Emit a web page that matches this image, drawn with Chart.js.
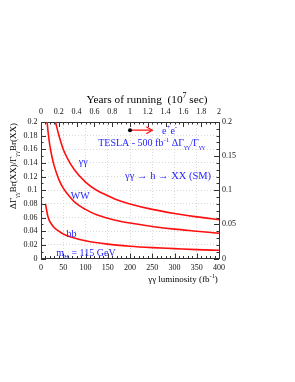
<!DOCTYPE html>
<html>
<head>
<meta charset="utf-8">
<script src="https://cdn.jsdelivr.net/npm/chart.js@4/dist/chart.umd.min.js"></script>
<style>
  html, body { margin: 0; padding: 0; background: #fff; }
  canvas { display: block; }
</style>
</head>
<body>
<canvas id="chart" width="295" height="382"></canvas>
<script>
// gamma-gamma luminosity (fb^-1) vs relative error on Gamma_gg * Br(XX)
const lumiGG = [32.5, 40, 50, 60, 75, 100, 125, 150, 175, 200, 250, 300, 350, 400];
const errGG  = [0.200, 0.181, 0.160, 0.146, 0.130, 0.112, 0.100, 0.092, 0.085, 0.080, 0.072, 0.066, 0.061, 0.057];

const lumiWW = [13.7, 16, 20, 25, 30, 40, 50, 60, 75, 100, 125, 150, 175, 200, 250, 300, 350, 400];
const errWW  = [0.200, 0.185, 0.165, 0.148, 0.135, 0.116, 0.103, 0.094, 0.083, 0.072, 0.064, 0.059, 0.055, 0.052, 0.047, 0.043, 0.040, 0.037];

const lumiBB = [10, 12, 15, 18, 20, 25, 30, 40, 50, 75, 100, 150, 200, 250, 300, 350, 400];
const errBB  = [0.080, 0.073, 0.063, 0.057, 0.054, 0.049, 0.045, 0.040, 0.036, 0.030, 0.026, 0.021, 0.018, 0.016, 0.0145, 0.013, 0.012];

// e+e- arrow (years of running)
const arrowYears = [1, 1.25];
const arrowLevel = [0.188, 0.188];

// tick labels
const lumiTicks  = [0, 50, 100, 150, 200, 250, 300, 350, 400];
const yearTicks  = [0, 0.2, 0.4, 0.6, 0.8, 1, 1.2, 1.4, 1.6, 1.8, 2];
const leftTicks  = [0, 0.02, 0.04, 0.06, 0.08, 0.1, 0.12, 0.14, 0.16, 0.18, 0.2];
const rightTicks = [0, 0.05, 0.1, 0.15, 0.2];

const SERIF = '"Liberation Serif", "Times New Roman", serif';
const BLUE  = '#2424ff';
const RED   = '#ff1010';
const AXIS  = '#333';

// annotations: [lumi, value, align, size, parts]  parts: [text, 0 normal | 1 sup | -1 sub]
const notes = [
  [128.5, 0.170, 'left', 10, [['TESLA - 500 fb', 0], ['-1', 1], [' \u0394\u0393', 0], ['\u03b3\u03b3', -1], ['/\u0393', 0], ['\u03b3\u03b3', -1]]],
  [189, 0.122, 'left', 10.5, [['\u03b3\u03b3 \u2192 h \u2192 XX (SM)', 0]]],
  [272, 0.188, 'left', 10, [['e', 0], ['+', 1], ['e', 0], ['-', 1]]],
  [95, 0.142, 'center', 10, [['\u03b3\u03b3', 0]]],
  [88, 0.093, 'center', 10, [['WW', 0]]],
  [68.5, 0.037, 'center', 10, [['bb', 0]]],
  [34, 0.0088, 'left', 10, [['m', 0], ['H', -1], [' = 115 GeV', 0]]],
];

function drawRich(ctx, parts, x, y, size, align) {
  const font = s => `${s}px ${SERIF}`;
  let w = 0;
  parts.forEach(([t, m]) => { ctx.font = font(m ? size * 0.7 : size); w += ctx.measureText(t).width; });
  let cx = align === 'center' ? x - w / 2 : align === 'right' ? x - w : x;
  const base = y + size * 0.35;
  ctx.textAlign = 'left';
  ctx.textBaseline = 'alphabetic';
  parts.forEach(([t, m]) => {
    const s = m ? size * 0.7 : size;
    ctx.font = font(s);
    const dy = m === 1 ? -size * 0.42 : m === -1 ? size * 0.3 : 0;
    ctx.fillText(t, cx, base + dy);
    cx += ctx.measureText(t).width;
  });
}

const inwardTicks = {
  id: 'inwardTicks',
  afterDraw(chart) {
    const { ctx, chartArea: a, scales } = chart;
    ctx.save();
    ctx.strokeStyle = AXIS;
    ctx.lineWidth = 1;
    const mark = (scale, step, len, side) => {
      const n = Math.round((scale.max - scale.min) / step);
      for (let i = 0; i <= n; i++) {
        const p = Math.round(scale.getPixelForValue(scale.min + i * step)) + 0.5;
        ctx.beginPath();
        if (side === 'bottom') { ctx.moveTo(p, a.bottom); ctx.lineTo(p, a.bottom - len); }
        if (side === 'top')    { ctx.moveTo(p, a.top);    ctx.lineTo(p, a.top + len); }
        if (side === 'left')   { ctx.moveTo(a.left, p);   ctx.lineTo(a.left + len, p); }
        if (side === 'right')  { ctx.moveTo(a.right, p);  ctx.lineTo(a.right - len, p); }
        ctx.stroke();
      }
    };
    mark(scales.x, 50, 5, 'bottom');   mark(scales.x, 10, 2.5, 'bottom');
    mark(scales.x2, 0.2, 5, 'top');    mark(scales.x2, 0.05, 2.5, 'top');
    mark(scales.y, 0.02, 5, 'left');   mark(scales.y, 0.01, 2.5, 'left');
    mark(scales.y2, 0.05, 5, 'right'); mark(scales.y2, 0.01, 2.5, 'right');

    // arrow head at the end of the e+e- arrow
    const ex = scales.x2.getPixelForValue(arrowYears[1]);
    const ey = scales.y.getPixelForValue(arrowLevel[1]);
    ctx.strokeStyle = RED;
    ctx.lineWidth = 1.2;
    ctx.beginPath();
    ctx.moveTo(ex - 6, ey - 3.5); ctx.lineTo(ex, ey); ctx.lineTo(ex - 6, ey + 3.5);
    ctx.stroke();

    // text
    ctx.fillStyle = BLUE;
    notes.forEach(([lx, v, align, size, parts]) => {
      drawRich(ctx, parts, scales.x.getPixelForValue(lx), scales.y.getPixelForValue(v), size, align);
    });

    ctx.fillStyle = '#000';
    drawRich(ctx, [['Years of running  (10', 0], ['7', 1], [' sec)', 0]], 147, 99, 11.3, 'center');
    drawRich(ctx, [['\u03b3\u03b3 luminosity (fb', 0], ['-1', 1], [')', 0]], 183, 279, 9, 'center');

    ctx.save();
    ctx.translate(13, 166);
    ctx.rotate(-Math.PI / 2);
    drawRich(ctx, [['\u0394\u0393', 0], ['\u03b3\u03b3', -1], ['Br(XX)/\u0393', 0], ['\u03b3\u03b3', -1], ['Br(XX)', 0]], 0, 0, 9, 'center');
    ctx.restore();
    ctx.restore();
  },
};

const pts = (xs, ys) => xs.map((x, i) => ({ x, y: ys[i] }));
const curve = (label, xs, ys) => ({
  label,
  data: pts(xs, ys),
  borderColor: RED,
  borderWidth: 1.6,
  pointRadius: 0,
  cubicInterpolationMode: 'monotone',
  fill: false,
});

const tickFont = { family: SERIF, size: 8 };
const setTicks = arr => scale => { scale.ticks = arr.map(value => ({ value })); };

new Chart(document.getElementById('chart'), {
  type: 'line',
  data: {
    datasets: [
      curve('gg', lumiGG, errGG),
      curve('WW', lumiWW, errWW),
      curve('bb', lumiBB, errBB),
      {
        label: 'arrow',
        data: pts(arrowYears, arrowLevel),
        xAxisID: 'x2',
        borderColor: RED,
        borderWidth: 1.2,
        pointRadius: [2, 0],
        pointBackgroundColor: '#000',
        pointBorderColor: '#000',
        pointBorderWidth: 0,
      },
    ],
  },
  options: {
    responsive: false,
    animation: false,
    events: [],
    layout: { padding: 0 },
    plugins: { legend: { display: false }, tooltip: { enabled: false } },
    scales: {
      x: {
        type: 'linear', position: 'bottom', min: 0, max: 400,
        afterBuildTicks: setTicks(lumiTicks),
        afterFit: s => { s.height = 123.5; },
        ticks: { font: tickFont, color: '#111', padding: 5, maxRotation: 0, callback: v => String(v) },
        grid: { color: '#cfcfcf', lineWidth: 0.8, drawTicks: false },
        border: { color: AXIS, width: 1, dash: [1, 2] },
      },
      x2: {
        type: 'linear', position: 'top', min: 0, max: 2,
        afterBuildTicks: setTicks(yearTicks),
        afterFit: s => { s.height = 122; },
        ticks: { font: tickFont, color: '#111', padding: 5, maxRotation: 0, callback: v => String(v) },
        grid: { drawOnChartArea: false, drawTicks: false },
        border: { color: AXIS, width: 1 },
      },
      y: {
        type: 'linear', position: 'left', min: 0, max: 0.2,
        afterBuildTicks: setTicks(leftTicks),
        afterFit: s => { s.width = 41; },
        ticks: { font: tickFont, color: '#111', padding: 3.5, callback: v => String(v) },
        grid: { color: '#cfcfcf', lineWidth: 0.8, drawTicks: false },
        border: { color: AXIS, width: 1, dash: [1, 2] },
      },
      y2: {
        type: 'linear', position: 'right', min: 0, max: 0.2,
        afterBuildTicks: setTicks(rightTicks),
        afterFit: s => { s.width = 76; },
        ticks: { font: tickFont, color: '#111', padding: 3, callback: v => String(v) },
        grid: { drawOnChartArea: false, drawTicks: false },
        border: { color: AXIS, width: 1 },
      },
    },
  },
  plugins: [inwardTicks],
});
</script>
</body>
</html>
